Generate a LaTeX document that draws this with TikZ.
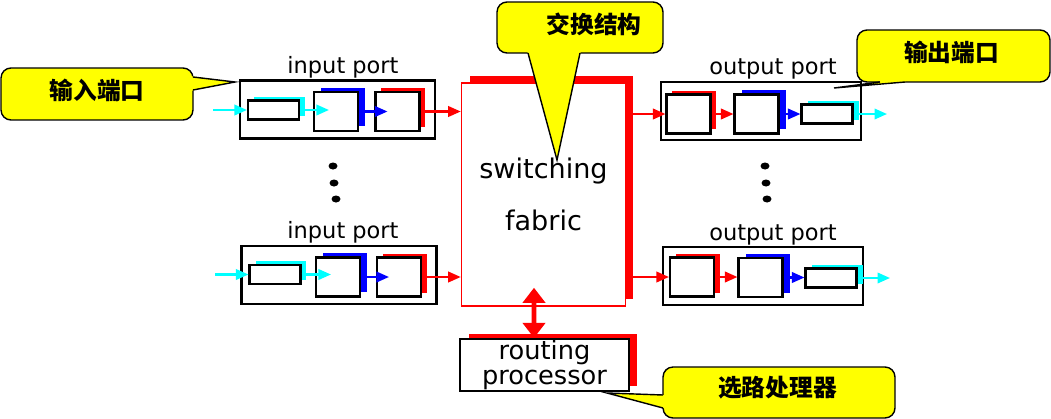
\documentclass[tikz,border=0pt]{standalone}
\usepackage{fontspec}
\setmainfont{DejaVu Sans}
\newfontfamily\cjk{Noto Sans CJK SC}
\usepackage{tikz}
\usetikzlibrary{positioning,calc,arrows.meta,shadows}
\definecolor{aqua}{RGB}{0,255,255}
\definecolor{ylw}{RGB}{255,255,0}
\definecolor{rred}{RGB}{255,0,0}
\definecolor{bblue}{RGB}{0,0,255}

\begin{document}
\begin{tikzpicture}[x=0.02cm, y=-0.02cm, >={Triangle[length=0.25cm, width=0.21cm]},
  port/.style={draw, line width=1.2pt, minimum width=3.9cm, minimum height=1.16cm},
  ptxt/.style={font=\fontsize{12.8}{15}\selectfont},
  buf/.style={draw, fill=white, line width=1.2pt, inner sep=0pt, minimum width=0.88cm, minimum height=0.78cm},
  lc/.style={draw, fill=white, line width=1.2pt, inner sep=0pt, minimum width=1.02cm, minimum height=0.38cm},
  cysh/.style={general shadow={fill=aqua, shadow xshift=0.12cm, shadow yshift=0.08cm}},
  blsh/.style={general shadow={fill=bblue, shadow xshift=0.14cm, shadow yshift=0.09cm}},
  rdsh/.style={general shadow={fill=rred, shadow xshift=0.11cm, shadow yshift=0.08cm}},
  cy/.style={->, aqua, line width=1.2pt},
  bl/.style={->, bblue, line width=1.2pt},
  rd/.style={->, rred, line width=1.2pt},
  fab/.style={draw=rred, line width=0.9pt, fill=white, minimum width=3.28cm, minimum height=4.46cm,
    general shadow={fill=rred, shadow xshift=0.16cm, shadow yshift=0.14cm},
    align=center, font=\fontsize{15.4}{18}\selectfont},
  rproc/.style={draw, line width=1.2pt, fill=white, minimum width=3.38cm, minimum height=1.04cm,
    general shadow={fill=rred, shadow xshift=0.17cm, shadow yshift=0.1cm},
    align=center, inner sep=0pt, font=\fontsize{14.6}{14}\selectfont},
  callout/.style={draw, line width=0.8pt, fill=ylw, rounded corners=0.2cm},
  ctxt/.style={font=\cjk\bfseries\fontsize{13.5}{16}\selectfont}]
  \useasboundingbox (0,0) rectangle (1051,419);

  % switching fabric and routing processor
  \node[fab] (fab) at (543.5,194.5) {switching\\[12pt]fabric};
  \node[rproc] (rp) at (544.5,365) {routing\\processor};
  \draw[{Triangle[length=0.3cm, width=0.44cm]}-{Triangle[length=0.3cm, width=0.44cm]}, rred, line width=2.8pt,
    shorten <=-0.38cm] ([xshift=-0.19cm]fab.south) -- ([xshift=-0.21cm]rp.north);

  % input ports
  \node[port] (in1) at (337.5,109.5) {};
  \node[ptxt] (in1t) at (343,67) {input port};
  \node[lc, cysh] (in1a) at (273.5,110) {};
  \node[buf, blsh] (in1b) at (336,111.5) {};
  \node[buf, rdsh] (in1c) at (397.5,111.5) {};
  \coordinate (in1s) at (213,110);

  \node[port] (in2) at (339,275) {};
  \node[ptxt] (in2t) at (343,232) {input port};
  \node[lc, cysh] (in2a) at (275,274.5) {};
  \node[buf, blsh] (in2b) at (338,277) {};
  \node[buf, rdsh] (in2c) at (399,277) {};
  \coordinate (in2s) at (215,274.5);

  \draw[cy] (in1s) -- (in1a.west);
  \draw[cy, shorten >=-0.32cm] (in1a.east) -- (in1a.east -| in1b.west);
  \draw[bl, shorten >=-0.26cm] (in1b.east) -- (in1b.east -| in1c.west);
  \draw[rd] (in1c.east) -- (in1c.east -| fab.west);
  \draw[cy] (in2s) -- (in2a.west);
  \draw[cy, shorten >=-0.32cm] (in2a.east) -- (in2a.east -| in2b.west);
  \draw[bl, shorten >=-0.26cm] (in2b.east) -- (in2b.east -| in2c.west);
  \draw[rd] (in2c.east) -- (in2c.east -| fab.west);

  % output ports
  \node[port, minimum width=4cm] (out1) at (761,111) {};
  \node[ptxt] (out1t) at (773,69) {output port};
  \node[buf, rdsh] (out1a) at (688.5,114) {};
  \node[buf, blsh] (out1b) at (756.5,114) {};
  \node[lc, cysh] (out1c) at (827,114) {};
  \coordinate (out1e) at (887,114);

  \node[port, minimum width=4cm] (out2) at (763,276) {};
  \node[ptxt] (out2t) at (773,235) {output port};
  \node[buf, rdsh] (out2a) at (692,277) {};
  \node[buf, blsh] (out2b) at (760.5,277.5) {};
  \node[lc, cysh] (out2c) at (831,278) {};
  \coordinate (out2e) at (890,278);

  \draw[rd] (fab.east |- out1a.west) -- (out1a.west);
  \draw[rd] (out1a.east) -- (out1b.west);
  \draw[bl] (out1b.east) -- (out1c.west);
  \draw[cy] (out1c.east) -- (out1e);
  \draw[rd] (fab.east |- out2a.west) -- (out2a.west);
  \draw[rd] (out2a.east) -- (out2a.east -| out2b.west);
  \draw[bl] (out2b.east) -- (out2b.east -| out2c.west);
  \draw[cy] (out2c.east) -- (out2e);

  % dots
  \foreach \p in {(333,166),(334,183),(336,199),(765,166),(766,183),(767,199)}
    \fill \p ellipse [x radius=0.09cm, y radius=0.07cm];

  % callouts
  \node[callout, minimum width=3.84cm, minimum height=1.04cm] (cin) at (97,94) {};
  \node[ctxt] (cint) at (97,90) {输入端口};
  \fill[ylw] (190,76) -- (235,82) -- (190,91) -- cycle;
  \draw[line width=0.8pt] (193,77) -- (235,82) -- (193,90);

  \node[callout, minimum width=3.32cm, minimum height=1.02cm] (csw) at (580,27.5) {};
  \node[ctxt] (cswt) at (594,24) {交换结构};
  \fill[ylw] (527,50) -- (557,160) -- (581,50) -- cycle;
  \draw[line width=0.8pt] (528,53) -- (557,160) -- (580,53);

  \node[callout, minimum width=3.86cm, minimum height=1.04cm] (cout) at (953.5,56) {};
  \node[ctxt] (coutt) at (951.5,52.5) {输出端口};
  \fill[ylw] (880,79) -- (880,82) -- (834,88) -- (905,82) -- (905,79) -- cycle;
  \draw[line width=0.8pt] (880,82) -- (834,88) -- (905,82);

  \node[callout, minimum width=4.64cm, minimum height=1.02cm] (crp) at (779,392.5) {};
  \node[ctxt] (crpt) at (777.5,388) {选路处理器};
  \fill[ylw] (666,395) -- (663,395) -- (607,393) -- (663,408) -- (666,408) -- cycle;
  \draw[line width=0.8pt] (663,395) -- (607,393) -- (663,408);
\end{tikzpicture}
\end{document}
